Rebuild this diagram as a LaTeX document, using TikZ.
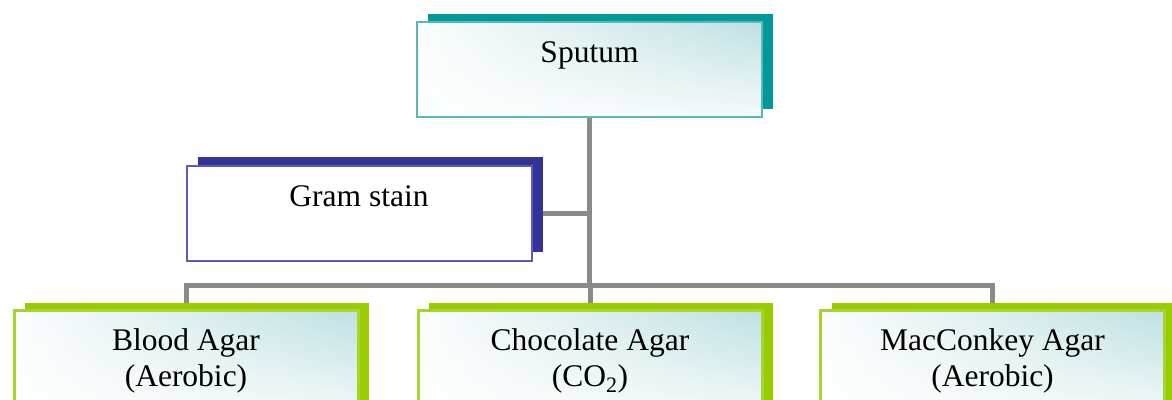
\documentclass[tikz,border=0pt]{standalone}
\usepackage{fontspec}
\setmainfont{Liberation Serif}
\usetikzlibrary{shadows,fadings,backgrounds}

\definecolor{tealdark}{HTML}{009999}
\definecolor{tealedge}{HTML}{5CB8B8}
\definecolor{tealtint}{HTML}{BBDFE1}
\definecolor{navydark}{HTML}{333399}
\definecolor{navyedge}{HTML}{5C5CB3}
\definecolor{limedark}{HTML}{99CC00}
\definecolor{limeedge}{HTML}{A8D42E}
\definecolor{linkgray}{HTML}{8A8A8A}

% tint that grows from the left edge to the right edge of a box
\pgfdeclarehorizontalshading{boxtint}{100bp}{%
  color(0bp)=(white); color(22bp)=(white); color(78bp)=(tealtint); color(100bp)=(tealtint)}
% whitening towards the bottom edge
\tikzfading[name=lowfade, top color=transparent!100, middle color=transparent!75, bottom color=transparent!15]

\tikzset{
  box/.style={rectangle, inner sep=0pt, align=center,
    minimum width=345pt, minimum height=95pt, line width=2pt,
    text height=20pt, text depth=34pt,
    font=\fontsize{31.5}{36}\selectfont},
  tintfill/.style={shading=boxtint, shading angle=0,
    path picture={\fill[white, path fading=lowfade]
      (path picture bounding box.south west) rectangle (path picture bounding box.north east);}},
  topbox/.style={box, tintfill, draw=tealedge,
    general shadow={fill=tealdark, shadow xshift=10.5pt, shadow yshift=8.5pt}},
  stainbox/.style={box, fill=white, draw=navyedge,
    general shadow={fill=navydark, shadow xshift=11pt, shadow yshift=9pt}},
  platebox/.style={box, tintfill, draw=limeedge, line width=3pt,
    minimum width=344pt, minimum height=107pt,
    text height=50pt, text depth=6pt,
    general shadow={fill=limedark, shadow xshift=11pt, shadow yshift=8pt}},
  link/.style={draw=linkgray, line width=5pt, line join=miter}
}

\begin{document}
\begin{tikzpicture}[x=1pt, y=1pt]
  \useasboundingbox (0,0) rectangle (1172,-399);

  \node[topbox]   (sputum) at (589.5,-69.5) {Sputum};
  \node[stainbox] (gram)   at (359,-213)    {Gram stain};
  \node[platebox] (blood)  at (186,-364)    {Blood Agar\\(Aerobic)};
  \node[platebox] (choc)   at (590,-364)    {Chocolate Agar\\(CO\textsubscript{2})};
  \node[platebox] (mac)    at (992.5,-364)  {MacConkey Agar\\(Aerobic)};

  \coordinate (bar) at (0,-285);

  \begin{scope}[on background layer]
    \draw[link] (sputum.south) -- (sputum.south |- bar);
    \draw[link] (gram.east) -- (gram.east -| sputum.south);
    \draw[link] (blood.north) -- (blood.north |- bar) -- (mac.north |- bar) -- (mac.north);
    \draw[link] (choc.north |- bar) -- (choc.north);
  \end{scope}
\end{tikzpicture}
\end{document}
